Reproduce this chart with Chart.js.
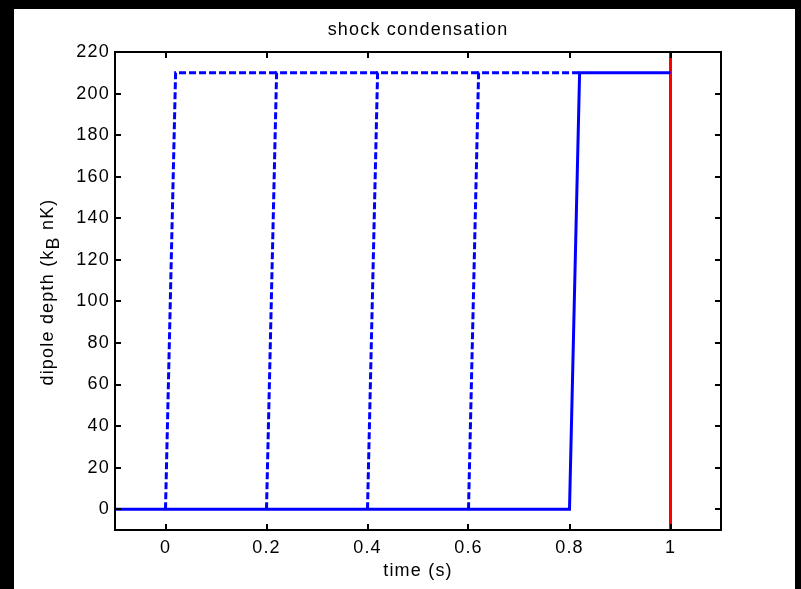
<!DOCTYPE html>
<html><head><meta charset="utf-8">
<script src="https://cdn.jsdelivr.net/npm/chart.js@4/dist/chart.umd.min.js"></script>
<style>html,body{margin:0;padding:0;background:#000;overflow:hidden}canvas{display:block}</style>
</head><body>
<canvas id="c" width="801" height="589"></canvas>
<script>
const titleText = "shock condensation";
const xLabel = "time (s)";
const xTicks = [0, 0.2, 0.4, 0.6, 0.8, 1];
const yTicks = [0, 20, 40, 60, 80, 100, 120, 140, 160, 180, 200, 220];
const dashedX = [[0, 0.02, 0.22], [0.2, 0.22, 0.42], [0.4, 0.42, 0.62], [0.6, 0.62, 0.82]];
const dashedY = [0, 210, 210];
const solidX = [-0.1, 0.8, 0.82, 1];
const solidY = [0, 0, 210, 210];
const redX = [1, 1];
const redY = [-10, 220];
const FONT = "'Liberation Sans', Arial, Helvetica, sans-serif";
const FS = 18;
const LS = '1.2px';

function pts(xs, ys) { return xs.map((x, i) => ({x: x, y: ys[i]})); }

const datasets = [];
dashedX.forEach(xs => datasets.push({
  data: pts(xs, dashedY), borderColor: '#0000ff', borderWidth: 3,
  borderDash: [7, 3], pointRadius: 0, showLine: true, fill: false
}));
datasets.push({data: pts(solidX, solidY), borderColor: '#0000ff', borderWidth: 3, pointRadius: 0, showLine: true, fill: false});
datasets.push({data: pts(redX, redY), borderColor: '#ff0000', borderWidth: 3, pointRadius: 0, showLine: true, fill: false});

const framePlugin = {
  id: 'frame',
  beforeDraw(chart) {
    const ctx = chart.ctx;
    ctx.save();
    ctx.fillStyle = '#000';
    ctx.fillRect(0, 0, chart.width, chart.height);
    ctx.fillStyle = '#fff';
    ctx.fillRect(14, 9, 781, 580);
    ctx.restore();
    ctx.letterSpacing = LS;
  },
  afterDraw(chart) {
    const ctx = chart.ctx;
    const a = chart.chartArea;
    const xs = chart.scales.x, ys = chart.scales.y;
    ctx.save();
    ctx.letterSpacing = LS;
    ctx.strokeStyle = '#000';
    ctx.lineWidth = 2;
    ctx.strokeRect(a.left, a.top, a.right - a.left, a.bottom - a.top);
    const tl = 6;
    ctx.beginPath();
    xTicks.forEach(v => {
      const p = Math.round(xs.getPixelForValue(v));
      ctx.moveTo(p, a.bottom); ctx.lineTo(p, a.bottom - tl);
      ctx.moveTo(p, a.top); ctx.lineTo(p, a.top + tl);
    });
    yTicks.forEach(v => {
      const p = Math.round(ys.getPixelForValue(v));
      ctx.moveTo(a.left, p); ctx.lineTo(a.left + tl, p);
      ctx.moveTo(a.right, p); ctx.lineTo(a.right - tl, p);
    });
    ctx.stroke();
    ctx.fillStyle = '#000';
    ctx.font = FS + 'px ' + FONT;
    ctx.textAlign = 'center';
    ctx.textBaseline = 'middle';
    const cx = (a.left + a.right) / 2;
    ctx.fillText(titleText, cx, 30);
    ctx.fillText(xLabel, cx, 571);
    ctx.translate(47, 292);
    ctx.rotate(-Math.PI / 2);
    const p1 = "dipole depth (k", sub = "B", p2 = " nK)";
    ctx.font = FS + 'px ' + FONT;
    const w1 = ctx.measureText(p1).width, w3 = ctx.measureText(p2).width;
    const w2 = ctx.measureText(sub).width;
    let x0 = -(w1 + w2 + w3) / 2;
    ctx.textAlign = 'left';
    ctx.textBaseline = 'alphabetic';
    ctx.fillText(p1, x0, 6);
    ctx.fillText(sub, x0 + w1, 12);
    ctx.fillText(p2, x0 + w1 + w2, 6);
    ctx.restore();
  }
};

new Chart(document.getElementById('c'), {
  type: 'scatter',
  data: {datasets: datasets},
  options: {
    responsive: false,
    animation: false,
    devicePixelRatio: 1,
    layout: {padding: {left: 0, top: 52, right: 80, bottom: 0}},
    plugins: {legend: {display: false}, tooltip: {enabled: false}, title: {display: false}},
    elements: {line: {tension: 0}},
    scales: {
      x: {
        type: 'linear', min: -0.1, max: 1.1,
        afterBuildTicks: s => { s.ticks = xTicks.map(v => ({value: v})); },
        afterFit: s => { s.height = 59; },
        grid: {display: false, drawTicks: false},
        border: {display: false},
        ticks: {color: '#000', font: {family: FONT, size: FS}, padding: 7, maxRotation: 0,
          callback: v => String(v)}
      },
      y: {
        type: 'linear', min: -10, max: 220,
        afterBuildTicks: s => { s.ticks = yTicks.map(v => ({value: v})); },
        afterFit: s => { s.width = 115; },
        grid: {display: false, drawTicks: false},
        border: {display: false},
        ticks: {color: '#000', font: {family: FONT, size: FS}, padding: 5,
          callback: v => String(v)}
      }
    }
  },
  plugins: [framePlugin]
});
</script>
</body></html>
